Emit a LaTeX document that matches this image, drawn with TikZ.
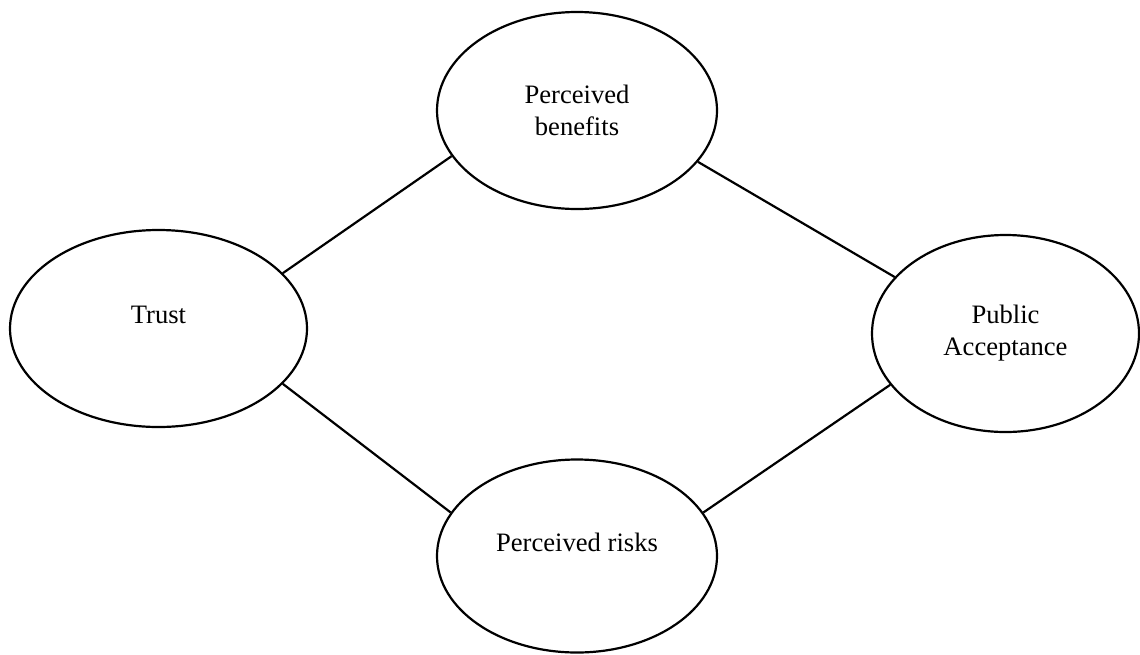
\documentclass[tikz,border=0pt]{standalone}
\usepackage{fontspec}
\setmainfont{Liberation Serif}
\usetikzlibrary{shapes.geometric}

\begin{document}
\begin{tikzpicture}[x=0.5pt,y=-0.5pt,line width=1.1pt,
    oval/.style={ellipse,draw,inner sep=0pt,align=center,
      font=\fontsize{13.3}{16}\selectfont},
    raised/.style={label={[yshift=7pt,font=\fontsize{13.3}{16}\selectfont]center:#1}}]
   \useasboundingbox (0,0) rectangle (1140,654);
   \node[oval,minimum width=148.5pt,minimum height=98.5pt,raised=Trust] (trust) at (158.5,328.5) {};
   \node[oval,minimum width=140pt,minimum height=98.5pt] (benefits) at (577,110.5) {Perceived\\benefits};
   \node[oval,minimum width=133.5pt,minimum height=98.5pt] (accept) at (1005.5,333.5) {Public\\Acceptance};
   \node[oval,minimum width=140pt,minimum height=96.5pt,raised=Perceived risks] (risks) at (577,556) {};
    \draw (trust.24) -- (benefits.200)
          (trust.-24) -- (risks.161)
          (benefits.-23) -- (accept.153)
          (risks.19) -- (accept.204);
\end{tikzpicture}
\end{document}
